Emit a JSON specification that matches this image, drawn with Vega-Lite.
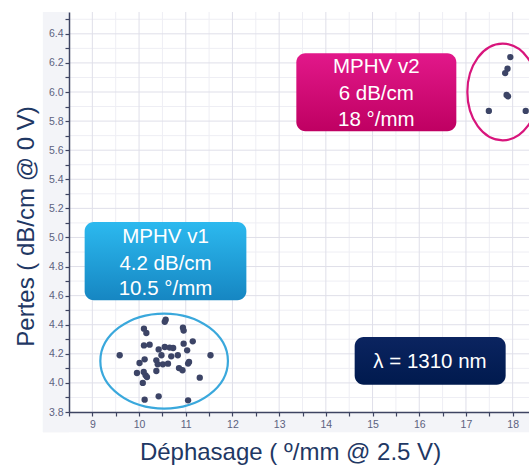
{
  "$schema": "https://vega.github.io/schema/vega-lite/v6.json",
  "width": 460,
  "height": 400,
  "autosize": "none",
  "padding": {"left": 69, "top": 12, "right": 0, "bottom": 53},
  "background": "white",
  "config": {
    "view": {"stroke": null},
    "font": "Liberation Sans",
    "axis": {"labelOverlap": false, "labelSeparation": 0}
  },
  "datasets": {
    "band": [
      {"x": 7.94, "x2": 8.5, "y": 3.66, "y2": 6.55},
      {"x": 7.94, "x2": 18.6, "y": 3.66, "y2": 3.8}
    ],
    "gridXMajor": [{"x": 9}, {"x": 10}, {"x": 11}, {"x": 12}, {"x": 13}, {"x": 14}, {"x": 15}, {"x": 16}, {"x": 17}, {"x": 18}],
    "gridXMinor": [{"x": 9.5}, {"x": 10.5}, {"x": 11.5}, {"x": 12.5}, {"x": 13.5}, {"x": 14.5}, {"x": 15.5}, {"x": 16.5}, {"x": 17.5}],
    "gridYMajor": [{"y": 4.0}, {"y": 4.2}, {"y": 4.4}, {"y": 4.6}, {"y": 4.8}, {"y": 5.0}, {"y": 5.2}, {"y": 5.4}, {"y": 5.6}, {"y": 5.8}, {"y": 6.0}, {"y": 6.2}, {"y": 6.4}],
    "gridYMinor": [{"y": 3.9}, {"y": 4.1}, {"y": 4.3}, {"y": 4.5}, {"y": 4.7}, {"y": 4.9}, {"y": 5.1}, {"y": 5.3}, {"y": 5.5}, {"y": 5.7}, {"y": 5.9}, {"y": 6.1}, {"y": 6.3}, {"y": 6.5}],
    "points": [
      {"x": 9.585, "y": 4.19}, {"x": 10.105, "y": 4.373}, {"x": 10.156, "y": 4.343},
      {"x": 10.57, "y": 4.435}, {"x": 10.55, "y": 4.42}, {"x": 10.94, "y": 4.38},
      {"x": 10.955, "y": 4.36}, {"x": 10.105, "y": 4.258}, {"x": 10.227, "y": 4.263},
      {"x": 10.42, "y": 4.23}, {"x": 10.55, "y": 4.247}, {"x": 10.655, "y": 4.243},
      {"x": 10.73, "y": 4.24}, {"x": 10.955, "y": 4.27}, {"x": 11.15, "y": 4.286},
      {"x": 11.03, "y": 4.224}, {"x": 11.53, "y": 4.19}, {"x": 10.48, "y": 4.19},
      {"x": 10.69, "y": 4.183}, {"x": 10.83, "y": 4.19}, {"x": 10.12, "y": 4.162},
      {"x": 10.01, "y": 4.137}, {"x": 10.37, "y": 4.155}, {"x": 10.4, "y": 4.128},
      {"x": 10.51, "y": 4.128}, {"x": 10.62, "y": 4.132}, {"x": 10.37, "y": 4.082},
      {"x": 10.855, "y": 4.102}, {"x": 10.93, "y": 4.087}, {"x": 11.05, "y": 4.133},
      {"x": 11.07, "y": 4.144}, {"x": 9.955, "y": 4.068}, {"x": 10.1, "y": 4.075},
      {"x": 10.14, "y": 4.052}, {"x": 10.17, "y": 4.04}, {"x": 10.08, "y": 4.0},
      {"x": 11.3, "y": 4.036}, {"x": 10.12, "y": 3.885}, {"x": 10.42, "y": 3.908},
      {"x": 11.05, "y": 3.88},
      {"x": 17.95, "y": 6.24}, {"x": 17.89, "y": 6.16}, {"x": 17.84, "y": 6.13},
      {"x": 17.87, "y": 5.98}, {"x": 17.9, "y": 5.97}, {"x": 17.49, "y": 5.87},
      {"x": 18.28, "y": 5.87}
    ],
    "ell1": [{"x": 10.537, "y": 4.15}],
    "ell2": [{"x": 17.786, "y": 6.0}],
    "box1": [{"x": 8.835, "x2": 12.298, "y": 5.106, "y2": 4.568}],
    "box2": [{"x": 13.368, "x2": 16.794, "y": 6.267, "y2": 5.731}],
    "box3": [{"x": 14.617, "x2": 17.85, "y": 4.315, "y2": 3.988}],
    "labels": [
      {"x": 10.567, "y": 5.003, "t": "MPHV v1"},
      {"x": 10.567, "y": 4.82, "t": "4.2 dB/cm"},
      {"x": 10.567, "y": 4.648, "t": "10.5 °/mm"},
      {"x": 15.08, "y": 6.171, "t": "MPHV v2"},
      {"x": 15.08, "y": 5.988, "t": "6 dB/cm"},
      {"x": 15.08, "y": 5.81, "t": "18 °/mm"},
      {"x": 16.23, "y": 4.142, "t": "λ = 1310 nm"}
    ]
  },
  "layer": [
    {
      "data": {"name": "band"},
      "mark": {"type": "rect", "fill": "#f3f4f8"},
      "encoding": {
        "x": {
          "field": "x", "type": "quantitative",
          "scale": {"domain": [8.5, 18.35], "nice": false, "zero": false},
          "axis": {
            "zindex": 2,
            "title": "Déphasage ( º/mm @ 2.5 V)",
            "values": [8.5, 9, 9.5, 10, 10.5, 11, 11.5, 12, 12.5, 13, 13.5, 14, 14.5, 15, 15.5, 16, 16.5, 17, 17.5, 18],
            "tickCount": 200,
            "labelExpr": "datum.value % 1 == 0 ? format(datum.value, 'd') : ''",
            "labelOverlap": false,
            "labelFlush": false,
            "grid": false,
            "domainColor": "#3e4462",
            "domainWidth": 1.5,
            "tickColor": "#3e4462",
            "tickWidth": 1.2,
            "tickSize": 4,
            "labelColor": "#5c6280",
            "labelFontSize": 10.5,
            "labelPadding": 3,
            "titleFontSize": 24,
            "titleFontWeight": "normal",
            "titleColor": "#1f3864",
            "titlePadding": 11,
            "titleX": 221
          }
        },
        "x2": {"field": "x2"},
        "y": {
          "field": "y", "type": "quantitative",
          "scale": {"domain": [3.8, 6.55], "nice": false, "zero": false},
          "axis": {
            "zindex": 2,
            "title": "Pertes ( dB/cm @ 0 V)",
            "values": [3.8, 3.9, 4.0, 4.1, 4.2, 4.3, 4.4, 4.5, 4.6, 4.7, 4.8, 4.9, 5.0, 5.1, 5.2, 5.3, 5.4, 5.5, 5.6, 5.7, 5.8, 5.9, 6.0, 6.1, 6.2, 6.3, 6.4, 6.5],
            "tickCount": 200,
            "labelExpr": "round(datum.value * 10) % 2 == 0 ? format(datum.value, '.1f') : ''",
            "labelOverlap": false,
            "labelSeparation": 0,
            "labelFlush": false,
            "grid": false,
            "domainColor": "#3e4462",
            "domainWidth": 1.5,
            "tickColor": "#3e4462",
            "tickWidth": 1.2,
            "tickSize": 4,
            "labelColor": "#5c6280",
            "labelFontSize": 10.5,
            "labelPadding": 2,
            "titleFontSize": 24,
            "titleFontWeight": "normal",
            "titleColor": "#1f3864",
            "titlePadding": 10,
            "titleY": 214
          }
        },
        "y2": {"field": "y2"}
      }
    },
    {
      "data": {"name": "gridXMinor"},
      "mark": {"type": "rule", "color": "#eeeef4", "strokeWidth": 1},
      "encoding": {"x": {"field": "x", "type": "quantitative"}}
    },
    {
      "data": {"name": "gridYMinor"},
      "mark": {"type": "rule", "color": "#eeeef4", "strokeWidth": 1},
      "encoding": {"y": {"field": "y", "type": "quantitative"}}
    },
    {
      "data": {"name": "gridXMajor"},
      "mark": {"type": "rule", "color": "#dfdfe9", "strokeWidth": 1},
      "encoding": {"x": {"field": "x", "type": "quantitative"}}
    },
    {
      "data": {"name": "gridYMajor"},
      "mark": {"type": "rule", "color": "#dfdfe9", "strokeWidth": 1},
      "encoding": {"y": {"field": "y", "type": "quantitative"}}
    },
    {
      "data": {"name": "ell1"},
      "mark": {"type": "point", "filled": false, "stroke": "#3aa8dc", "strokeWidth": 2.2, "opacity": 1,
               "shape": "M-1,0A1,0.745,0,1,0,1,0A1,0.745,0,1,0,-1,0Z", "size": 16282},
      "encoding": {"x": {"field": "x", "type": "quantitative"}, "y": {"field": "y", "type": "quantitative"}}
    },
    {
      "data": {"name": "ell2"},
      "mark": {"type": "point", "filled": false, "stroke": "#d8157c", "strokeWidth": 2.2, "opacity": 1,
               "shape": "M-0.731,0A0.731,1,0,1,0,0.731,0A0.731,1,0,1,0,-0.731,0Z", "size": 9332},
      "encoding": {"x": {"field": "x", "type": "quantitative"}, "y": {"field": "y", "type": "quantitative"}}
    },
    {
      "data": {"name": "points"},
      "mark": {"type": "circle", "size": 40, "color": "#3c4466", "opacity": 1},
      "encoding": {"x": {"field": "x", "type": "quantitative"}, "y": {"field": "y", "type": "quantitative"}}
    },
    {
      "data": {"name": "box1"},
      "mark": {"type": "rect", "cornerRadius": 9,
               "fill": {"gradient": "linear", "x1": 0, "y1": 0, "x2": 0, "y2": 1,
                        "stops": [{"offset": 0, "color": "#2cb9ef"}, {"offset": 1, "color": "#1686c2"}]}},
      "encoding": {"x": {"field": "x", "type": "quantitative"}, "x2": {"field": "x2"},
                   "y": {"field": "y", "type": "quantitative"}, "y2": {"field": "y2"}}
    },
    {
      "data": {"name": "box2"},
      "mark": {"type": "rect", "cornerRadius": 9,
               "fill": {"gradient": "linear", "x1": 0, "y1": 0, "x2": 0, "y2": 1,
                        "stops": [{"offset": 0, "color": "#e2188a"}, {"offset": 1, "color": "#bf0062"}]}},
      "encoding": {"x": {"field": "x", "type": "quantitative"}, "x2": {"field": "x2"},
                   "y": {"field": "y", "type": "quantitative"}, "y2": {"field": "y2"}}
    },
    {
      "data": {"name": "box3"},
      "mark": {"type": "rect", "cornerRadius": 9,
               "fill": {"gradient": "linear", "x1": 0, "y1": 0, "x2": 0, "y2": 1,
                        "stops": [{"offset": 0, "color": "#0b2460"}, {"offset": 1, "color": "#001a4e"}]}},
      "encoding": {"x": {"field": "x", "type": "quantitative"}, "x2": {"field": "x2"},
                   "y": {"field": "y", "type": "quantitative"}, "y2": {"field": "y2"}}
    },
    {
      "data": {"name": "labels"},
      "mark": {"type": "text", "color": "white", "fontSize": 20.5, "font": "Liberation Sans", "align": "center", "baseline": "middle"},
      "encoding": {"x": {"field": "x", "type": "quantitative"}, "y": {"field": "y", "type": "quantitative"},
                   "text": {"field": "t"}}
    }
  ]
}
